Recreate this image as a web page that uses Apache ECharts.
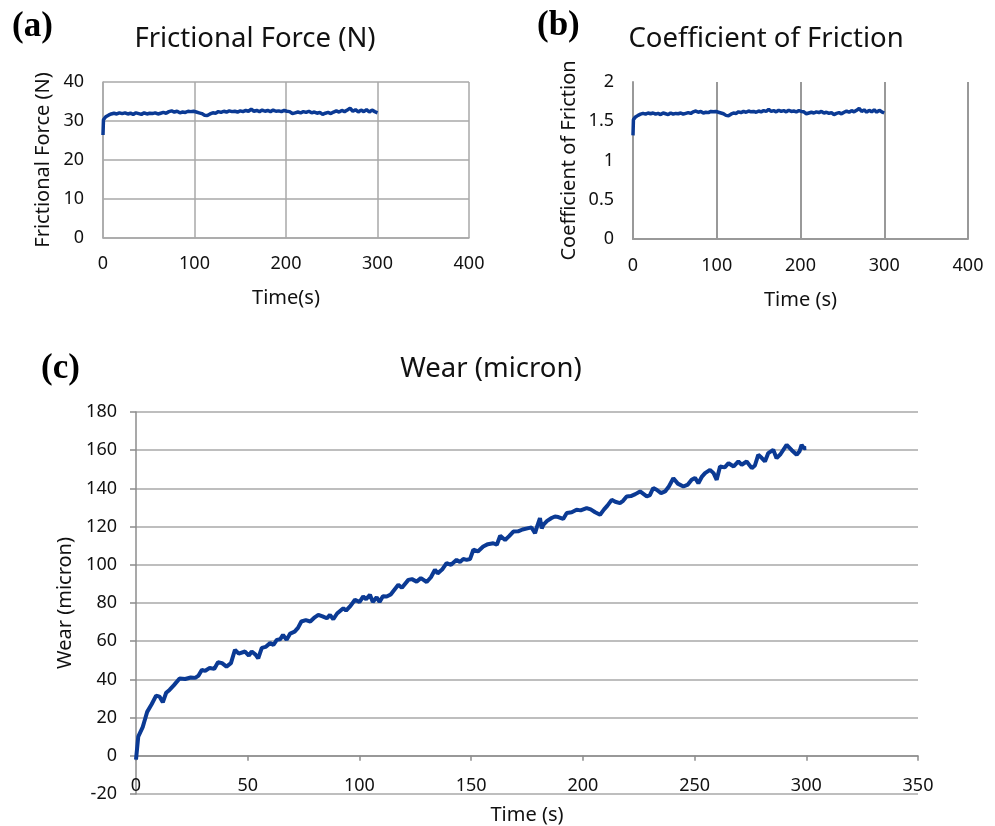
<!DOCTYPE html>
<html>
<head>
<meta charset="utf-8">
<script src="https://cdn.jsdelivr.net/npm/echarts@6/dist/echarts.min.js"></script>
<style>
html,body{margin:0;padding:0;background:#fff;}
#chart{width:995px;height:826px;}
</style>
</head>
<body>
<div id="chart"></div>
<script>
// ---- Panel (a): Frictional force (N) ----
const forceTime = [0, 0.5, 3, 6, 9, 12, 15, 18, 21, 24, 27, 30, 33, 36, 39, 42, 45, 48, 51, 54, 57, 60, 63, 66, 69, 72, 75, 78, 81, 84, 87, 90, 93, 96, 99, 102, 105, 108, 111, 114, 117, 120, 123, 126, 129, 132, 135, 138, 141, 144, 147, 150, 153, 156, 159, 162, 165, 168, 171, 174, 177, 180, 183, 186, 189, 192, 195, 198, 201, 204, 207, 210, 213, 216, 219, 222, 225, 228, 231, 234, 237, 240, 243, 246, 249, 252, 255, 258, 261, 264, 267, 270, 273, 276, 279, 282, 285, 288, 291, 294, 297, 300];
const forceValues = [26.4, 30.3, 31.1, 31.5, 31.8, 32.0, 31.8, 32.1, 31.9, 32.1, 31.8, 32.0, 31.7, 32.1, 31.9, 31.7, 32.1, 31.8, 32.0, 31.9, 32.1, 31.8, 32.0, 32.2, 32.0, 32.4, 32.6, 32.3, 32.5, 32.1, 32.3, 32.2, 32.5, 32.4, 32.5, 32.3, 32.1, 31.9, 31.5, 31.4, 31.8, 32.1, 32.0, 32.4, 32.2, 32.5, 32.3, 32.6, 32.4, 32.5, 32.3, 32.6, 32.4, 32.7, 32.5, 33.0, 32.5, 32.7, 32.4, 32.8, 32.5, 32.7, 32.4, 32.8, 32.5, 32.6, 32.4, 32.7, 32.5, 32.4, 31.9, 32.1, 32.3, 32.1, 32.4, 32.2, 32.5, 32.1, 32.3, 32.0, 32.2, 31.7, 32.0, 32.2, 31.9, 32.3, 32.6, 32.3, 32.7, 32.4, 32.8, 33.3, 32.5, 32.9, 32.3, 32.8, 32.4, 32.9, 32.3, 32.8, 32.4, 32.1];

// ---- Panel (b): Coefficient of friction ----
const cofTime = [0, 0.5, 3, 6, 9, 12, 15, 18, 21, 24, 27, 30, 33, 36, 39, 42, 45, 48, 51, 54, 57, 60, 63, 66, 69, 72, 75, 78, 81, 84, 87, 90, 93, 96, 99, 102, 105, 108, 111, 114, 117, 120, 123, 126, 129, 132, 135, 138, 141, 144, 147, 150, 153, 156, 159, 162, 165, 168, 171, 174, 177, 180, 183, 186, 189, 192, 195, 198, 201, 204, 207, 210, 213, 216, 219, 222, 225, 228, 231, 234, 237, 240, 243, 246, 249, 252, 255, 258, 261, 264, 267, 270, 273, 276, 279, 282, 285, 288, 291, 294, 297, 300];
const cofValues = [1.32, 1.52, 1.555, 1.575, 1.59, 1.6, 1.59, 1.605, 1.595, 1.605, 1.59, 1.6, 1.585, 1.605, 1.595, 1.585, 1.605, 1.59, 1.6, 1.595, 1.605, 1.59, 1.6, 1.61, 1.6, 1.62, 1.63, 1.615, 1.625, 1.605, 1.615, 1.61, 1.625, 1.62, 1.625, 1.615, 1.605, 1.595, 1.575, 1.57, 1.59, 1.605, 1.6, 1.62, 1.61, 1.625, 1.615, 1.63, 1.62, 1.625, 1.615, 1.63, 1.62, 1.635, 1.625, 1.65, 1.625, 1.635, 1.62, 1.64, 1.625, 1.635, 1.62, 1.64, 1.625, 1.63, 1.62, 1.635, 1.625, 1.62, 1.595, 1.605, 1.615, 1.605, 1.62, 1.61, 1.625, 1.605, 1.615, 1.6, 1.61, 1.585, 1.6, 1.61, 1.595, 1.615, 1.63, 1.615, 1.635, 1.62, 1.64, 1.665, 1.625, 1.645, 1.615, 1.64, 1.62, 1.645, 1.615, 1.64, 1.62, 1.605];

// ---- Panel (c): Wear (micron) ----
const wearTime = [0, 1, 2, 3, 4, 5, 7, 9, 10.5, 12, 13.5, 15, 17, 19.5, 22, 24.5, 26.5, 28, 29.5, 31, 33, 35, 36.7, 38.5, 40.5, 42.5, 44.3, 46, 48.8, 50.5, 51.8, 53.5, 54.7, 56.3, 58, 60, 61.5, 63, 64.5, 65.8, 67.4, 69, 71, 72.5, 74, 76, 78, 80, 81.6, 83.5, 85.4, 86.8, 88.3, 90, 92.8, 94, 96, 98, 100, 101.7, 103, 104.7, 106, 107.7, 109, 110.5, 112.2, 114, 116, 117.4, 119, 121.9, 123.5, 125.6, 127.5, 130.1, 132, 133.8, 135, 137, 139, 141, 143.5, 145, 146.5, 148, 149.5, 151, 153, 155.4, 157.5, 159.9, 161.5, 163, 165.2, 167, 168.9, 171, 173, 175.6, 177, 178.6, 179.5, 180.8, 181.6, 182.3, 184, 186, 187.5, 189, 191.2, 192.8, 195, 197.2, 199, 201.7, 203.5, 205.5, 207.7, 209.5, 211, 212.9, 214.5, 216.6, 218, 219.6, 221.5, 223.5, 225.6, 228.6, 230, 231.5, 233, 235, 236.8, 238.5, 240.5, 242.5, 245, 247, 248.7, 250.2, 251.7, 253.2, 254.7, 256.9, 258.5, 259.9, 261.4, 263.5, 265.2, 267.5, 269.6, 271.1, 273.3, 275.6, 277, 278.5, 280, 281.5, 283, 285.2, 286.7, 288.5, 291.2, 293.5, 295.7, 297, 297.9, 299, 300];
const wearValues = [-2, 10, 12.5, 15, 19, 23, 27, 31.5, 31, 28, 33, 34.5, 37, 40.5, 40.2, 41, 40.8, 42, 45, 44.5, 46, 45.5, 49, 48.5, 46.7, 48.5, 55.5, 53.5, 54.6, 52.5, 54.6, 53, 51, 56.5, 57, 59, 58, 60.7, 61, 63.3, 60.7, 64, 65, 67, 70.3, 71, 70.3, 72.5, 73.8, 73, 72, 73.8, 71.5, 74.5, 77.3, 76, 78.5, 81.7, 80.5, 83.4, 82, 84.3, 80.5, 83, 80.5, 83.5, 83.4, 84.5, 87.5, 89.5, 88, 92.1, 92.5, 91.2, 93, 91, 93.5, 97.4, 95.5, 97.5, 100.9, 100, 102.6, 101.5, 103, 102.6, 103, 107.9, 107, 109.6, 110.8, 111.3, 110.5, 115.2, 113, 115, 117.4, 117.5, 118.5, 119.2, 119.5, 116.5, 120, 124.4, 119, 120.9, 123, 124.5, 125.3, 125, 124, 127.1, 127.5, 128.8, 128.5, 129.7, 129, 127.5, 126.2, 129, 131, 134, 133, 132.3, 133.5, 135.8, 136, 137, 138.4, 135.8, 136.5, 140.2, 139.3, 137.5, 138.4, 141, 145.3, 142.5, 141, 142, 144.5, 145.5, 142.7, 146, 148, 149.7, 148, 144.5, 151.5, 151, 153.2, 151.5, 154.1, 152.4, 154.1, 150.6, 152, 157.6, 156, 154.1, 158.5, 160.2, 155.8, 158, 162.8, 160, 157.6, 159.5, 162.8, 161, 161.1];

// ---- Tick settings ----
const xTicksAB = {min: 0, max: 400, interval: 100};
const yTicksA = {min: 0, max: 40, interval: 10};
const yTicksB = {min: 0, max: 2, interval: 0.5};
const xTicksC = {min: 0, max: 350, interval: 50};
const yTicksC = {min: -20, max: 180, interval: 20};

const FONT = 'Noto Sans';
const lineColor = '#0b3a94';
const gridGray = '#a8a8a8';
const lbl = {fontFamily: FONT, fontSize: 18, color: '#111'};
const nameStyle = {fontFamily: FONT, fontSize: 20, color: '#111'};
const panelTag = {fontFamily: 'Liberation Serif', fontWeight: 'bold', fontSize: 35, color: '#000'};
const titleStyle = {fontFamily: FONT, fontWeight: 'normal', fontSize: 27.5, color: '#111'};

function pairs(t, v) { return t.map((x, i) => [x, v[i]]); }

const chart = echarts.init(document.getElementById('chart'), null, {renderer: 'canvas'});
chart.setOption({
  backgroundColor: '#fff',
  animation: false,
  title: [
    {text: '(a)', left: 12, top: 9, padding: 0, textStyle: panelTag},
    {text: '(b)', left: 537, top: 8, padding: 0, textStyle: panelTag},
    {text: '(c)', left: 41, top: 351, padding: 0, textStyle: panelTag},
    {text: 'Frictional Force (N)', left: 255, top: 25, padding: 0, textAlign: 'center', textStyle: titleStyle},
    {text: 'Coefficient of Friction', left: 766, top: 25, padding: 0, textAlign: 'center', textStyle: titleStyle},
    {text: 'Wear (micron)', left: 491, top: 355, padding: 0, textAlign: 'center', textStyle: titleStyle}
  ],
  grid: [
    {left: 103, top: 82, width: 366, height: 156, outerBoundsMode: 'none', containLabel: false},
    {left: 633, top: 82, width: 335, height: 157, outerBoundsMode: 'none', containLabel: false},
    {left: 136, top: 412, width: 782, height: 382, outerBoundsMode: 'none', containLabel: false}
  ],
  xAxis: [
    {gridIndex: 0, type: 'value', ...xTicksAB, name: 'Time(s)', nameLocation: 'middle', nameGap: 50, nameTextStyle: nameStyle,
     axisLine: {show: true, lineStyle: {color: gridGray, width: 1.5}}, axisTick: {show: false},
     axisLabel: {...lbl, margin: 17}, splitLine: {show: true, lineStyle: {color: gridGray, width: 1.5}}},
    {gridIndex: 1, type: 'value', ...xTicksAB, name: 'Time (s)', nameLocation: 'middle', nameGap: 51, nameTextStyle: nameStyle,
     axisLine: {show: true, lineStyle: {color: '#999', width: 2}}, axisTick: {show: false},
     axisLabel: {...lbl, margin: 18}, splitLine: {show: true, lineStyle: {color: '#999', width: 2}}},
    {gridIndex: 2, type: 'value', ...xTicksC, name: 'Time (s)', nameLocation: 'middle', nameGap: 11, nameMoveOverlap: false, nameTextStyle: nameStyle,
     axisLine: {show: true, onZero: true, lineStyle: {color: '#8c8c8c', width: 1.5}}, axisTick: {show: true, length: 5, lineStyle: {color: '#8c8c8c', width: 1.5}},
     axisLabel: {...lbl, margin: -17}, splitLine: {show: false}}
  ],
  yAxis: [
    {gridIndex: 0, type: 'value', ...yTicksA, name: 'Frictional Force (N)', nameLocation: 'middle', nameGap: 50, nameTextStyle: nameStyle,
     axisLine: {show: true, lineStyle: {color: gridGray, width: 1.5}}, axisTick: {show: false},
     axisLabel: {...lbl, margin: 19}, splitLine: {show: true, lineStyle: {color: gridGray, width: 1.5}}},
    {gridIndex: 1, type: 'value', ...yTicksB, name: 'Coefficient of Friction', nameLocation: 'middle', nameGap: 54, nameTextStyle: nameStyle,
     axisLine: {show: true, lineStyle: {color: '#999', width: 2}}, axisTick: {show: false},
     axisLabel: {...lbl, margin: 19, formatter: v => String(v)}, splitLine: {show: false}},
    {gridIndex: 2, type: 'value', ...yTicksC, name: 'Wear (micron)', nameLocation: 'middle', nameGap: 59, nameTextStyle: nameStyle,
     axisLine: {show: true, lineStyle: {color: '#8c8c8c', width: 1.5}}, axisTick: {show: true, length: 6, lineStyle: {color: '#8c8c8c', width: 1.5}},
     axisLabel: {...lbl, margin: 19}, splitLine: {show: true, lineStyle: {color: gridGray, width: 1.5}}}
  ],
  series: [
    {type: 'line', xAxisIndex: 0, yAxisIndex: 0, data: pairs(forceTime, forceValues), showSymbol: false, lineStyle: {color: lineColor, width: 3.5}},
    {type: 'line', xAxisIndex: 1, yAxisIndex: 1, data: pairs(cofTime, cofValues), showSymbol: false, lineStyle: {color: lineColor, width: 3.5}},
    {type: 'line', xAxisIndex: 2, yAxisIndex: 2, data: pairs(wearTime, wearValues), showSymbol: false, lineStyle: {color: lineColor, width: 4}}
  ]
});
</script>
</body>
</html>
